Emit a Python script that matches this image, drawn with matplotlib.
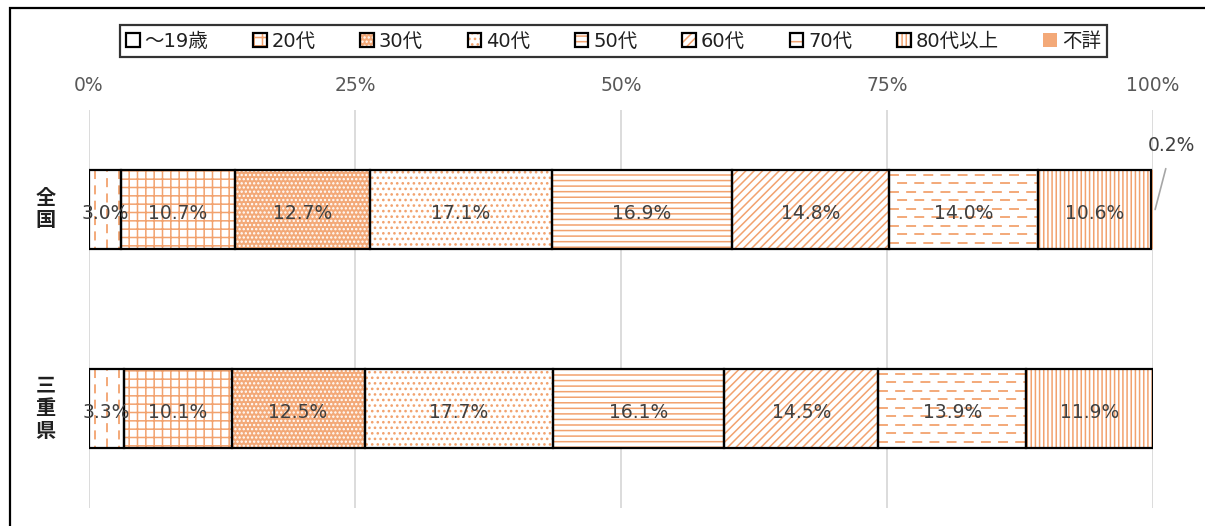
import numpy as np
import matplotlib
matplotlib.use("Agg")
import matplotlib.pyplot as plt
from matplotlib.patches import Rectangle
from matplotlib.collections import LineCollection
from matplotlib.legend_handler import HandlerTuple

plt.rcParams['font.family'] = ['DejaVu Sans', 'Noto Sans CJK JP']
plt.rcParams['hatch.linewidth'] = 1.1

regions = ['全国', '三重県']
ages = ['～19歳', '20代', '30代', '40代', '50代', '60代', '70代', '80代以上', '不詳']
zenkoku = [3.0, 10.7, 12.7, 17.1, 16.9, 14.8, 14.0, 10.6, 0.2]
mie = [3.3, 10.1, 12.5, 17.7, 16.1, 14.5, 13.9, 11.9, 0.0]
values = np.array([zenkoku, mie])
xticks = [0, 25, 50, 75, 100]

ORANGE = '#F2A26E'
FILL = '#F3A978'
TXT = '#404040'

# fill style per age group: (facecolor, hatch colour, hatch, custom dashes)
styles = [
    ('white', ORANGE, None, 'vdash'),
    ('white', ORANGE, '++', None),
    (FILL, 'white', '....', None),
    ('white', ORANGE, '...', None),
    ('white', ORANGE, '---', None),
    ('white', ORANGE, '////', None),
    ('white', ORANGE, None, 'hdash'),
    ('white', ORANGE, '||||', None),
    (FILL, FILL, None, None),
]
legend_hatch = ['|', '++', '....', '...', '---', '////', '-', '||||', None]

fig = plt.figure(figsize=(12.05, 5.26), dpi=100)
ax = fig.add_axes([89 / 1205, 1 - 508 / 526, 1064 / 1205, 398 / 526])
ax.set_xlim(0, 100)
ax.set_ylim(1.5, -0.5)
bar_h = 0.4

px_x = ax.bbox.width / 100.0   # pixels per percent
px_y = ax.bbox.height / 2.0    # pixels per category unit

y = np.arange(len(regions))
left = np.zeros(len(regions))
for k, age in enumerate(ages):
    fc, hc, hatch, custom = styles[k]
    w = values[:, k]
    bars = ax.barh(y, w, left=left, height=bar_h, color=fc, edgecolor=hc,
                   linewidth=0, hatch=hatch, zorder=2)
    for i, b in enumerate(bars):
        if w[i] <= 0:
            continue
        x0, x1 = left[i], left[i] + w[i]
        y0, y1 = y[i] - bar_h / 2, y[i] + bar_h / 2
        if custom == 'vdash':
            xs = np.arange(x0 + 6 / px_x, x1, 12 / px_x)
            segs = [[(xx, y0), (xx, y1)] for xx in xs]
            ls = [(0 if j % 2 == 0 else 4, (5, 3.5)) for j in range(len(xs))]
            lc = LineCollection(segs, colors=ORANGE, linewidths=1.3,
                                linestyles=ls, zorder=3)
            ax.add_collection(lc)
            lc.set_clip_path(b)
        elif custom == 'hdash':
            ys = np.arange(y0 + 5 / px_y, y1, 8.5 / px_y)
            segs = [[(x0, yy), (x1, yy)] for yy in ys]
            ls = [(0 if j % 2 == 0 else 5, (5.5, 4)) for j in range(len(ys))]
            lc = LineCollection(segs, colors=ORANGE, linewidths=1.3,
                                linestyles=ls, zorder=3)
            ax.add_collection(lc)
            lc.set_clip_path(b)
        if k < len(ages) - 1:
            ax.add_patch(Rectangle((x0, y0), w[i], bar_h, fill=False,
                                   edgecolor='black', linewidth=1.6, zorder=4))
            ax.text((x0 + x1) / 2, y[i] + 0.02, f'{w[i]:.1f}%', ha='center',
                    va='center', fontsize=13.5, color=TXT, zorder=5)
    left = left + w

# small unknown share with leader line
ax.annotate(f'{zenkoku[-1]:.1f}%', xy=(100.2, 0.0), xytext=(12, 46),
            textcoords='offset points', ha='center', va='center',
            fontsize=13.5, color=TXT, annotation_clip=False,
            arrowprops=dict(arrowstyle='-', color='#A6A6A6', lw=1.2,
                            shrinkA=8, shrinkB=0))

ax.set_xticks(xticks)
ax.set_xticklabels([f'{t}%' for t in xticks], fontsize=13.5, color='#595959')
ax.xaxis.tick_top()
ax.tick_params(axis='x', length=0, pad=11)
ax.set_yticks([])
ax.grid(axis='x', color='#D9D9D9', linewidth=1.3, zorder=0)
ax.set_axisbelow(True)
for s in ax.spines.values():
    s.set_visible(False)

for i, r in enumerate(regions):
    ax.text(-0.041, y[i], '\n'.join(r), transform=ax.get_yaxis_transform(),
            ha='center', va='center', fontsize=14.5, fontweight='bold',
            linespacing=1.25, color='#202020')

# legend
handles = []
for k, age in enumerate(ages):
    fc, hc, _, _ = styles[k]
    p = Rectangle((0, 0), 1, 1, facecolor=fc, edgecolor=hc, linewidth=0,
                  hatch=legend_hatch[k])
    if k < len(ages) - 1:
        o = Rectangle((0, 0), 1, 1, fill=False, edgecolor='black', linewidth=1.6)
        handles.append((p, o))
    else:
        handles.append(p)
leg = fig.legend(handles, ages, loc='center', bbox_to_anchor=(0.509, 1 - 41 / 526),
                 ncol=9, fontsize=14, frameon=True, fancybox=False,
                 handlelength=0.7, handleheight=0.7, handletextpad=0.25,
                 columnspacing=2.3, borderpad=0.33, borderaxespad=0,
                 handler_map={tuple: HandlerTuple(ndivide=1, pad=0)})
leg.get_frame().set_edgecolor('black')
leg.get_frame().set_linewidth(1.6)
for t in leg.get_texts():
    t.set_color('#202020')

# outer chart border (cut at right and bottom as in the picture)
fig.add_artist(Rectangle((10 / 1205, -0.1), 1.2, 1.1 - 8 / 526, fill=False,
                         edgecolor='black', linewidth=1.6,
                         transform=fig.transFigure))

fig.savefig('out.png', dpi=100)
